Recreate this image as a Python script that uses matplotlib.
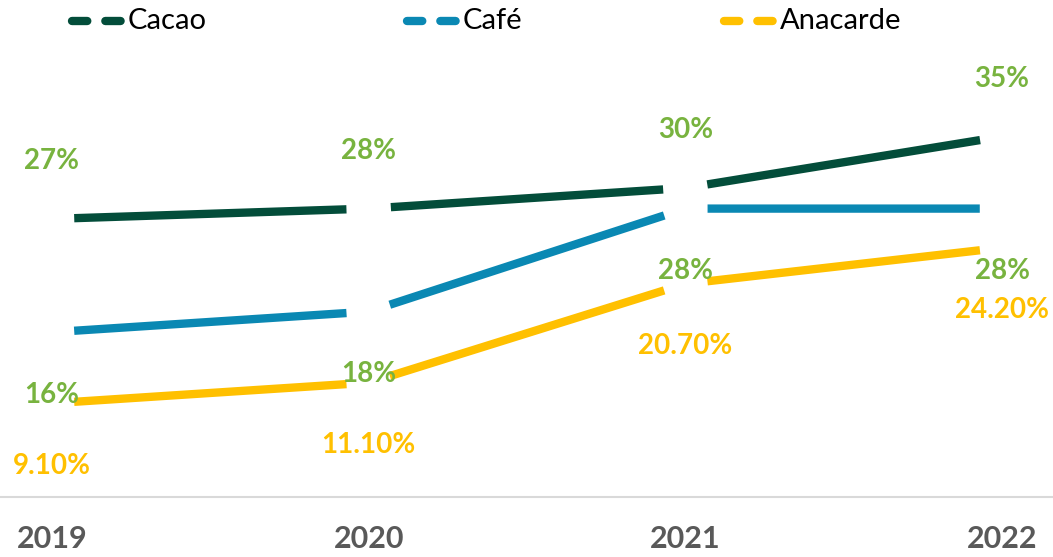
import matplotlib
matplotlib.use("Agg")
import matplotlib.pyplot as plt
from matplotlib.lines import Line2D

plt.rcParams['font.family'] = ['Lato', 'DejaVu Sans']
plt.rcParams['lines.scale_dashes'] = False

years = ["2019", "2020", "2021", "2022"]
cacao = [27, 28, 30, 35]
cafe = [16, 18, 28, 28]
anacarde = [9.1, 11.1, 20.7, 24.2]
cacao_labels = ["27%", "28%", "30%", "35%"]
cafe_labels = ["16%", "18%", "28%", "28%"]
anacarde_labels = ["9.10%", "11.10%", "20.70%", "24.20%"]

C_CACAO = "#034D3A"
C_CAFE = "#0A88B3"
C_ANA = "#FFC000"
C_GREEN = "#78B33F"
C_GRAY = "#595959"

fig = plt.figure(figsize=(10.53, 5.57), dpi=100)
ax = fig.add_axes([0, 60/557, 1, 437/557])
ax.set_xlim(-52/316.7, 3 + 51/316.7)
ax.set_ylim(0, 437/10.3)

xs = list(range(len(years)))
LW = 6.0
SHR = 16

def draw_series(vals, color):
    for i in range(len(vals) - 1):
        ax.annotate("", xy=(xs[i+1], vals[i+1]), xytext=(xs[i], vals[i]),
                    arrowprops=dict(arrowstyle='-', shrinkA=SHR, shrinkB=SHR,
                                    lw=LW, color=color, capstyle='butt'))

draw_series(cacao, C_CACAO)
draw_series(cafe, C_CAFE)
draw_series(anacarde, C_ANA)

FS = 20
for x, v, t in zip(xs, cacao, cacao_labels):
    ax.annotate(t, (x, v), xytext=(0, 41.5), textcoords='offset points',
                ha='center', va='center', fontsize=FS, fontweight='bold', color=C_GREEN)
for x, v, t in zip(xs, cafe, cafe_labels):
    ax.annotate(t, (x, v), xytext=(0, -45), textcoords='offset points',
                ha='center', va='center', fontsize=FS, fontweight='bold', color=C_GREEN)
for x, v, t in zip(xs, anacarde, anacarde_labels):
    ax.annotate(t, (x, v), xytext=(0, -45), textcoords='offset points',
                ha='center', va='center', fontsize=FS, fontweight='bold', color=C_ANA)

for s in ['top', 'left', 'right']:
    ax.spines[s].set_visible(False)
ax.spines['bottom'].set_color('#D9D9D9')
ax.spines['bottom'].set_linewidth(1.5)
ax.set_yticks([])
ax.set_xticks(xs)
ax.set_xticklabels(years, fontsize=22, fontweight='bold', color=C_GRAY)
ax.tick_params(axis='x', length=0, pad=20)

# legend
legend_items = [("Cacao", C_CACAO, 68), ("Café", C_CAFE, 403), ("Anacarde", C_ANA, 720)]
H = 557
W = 1053
for name, col, x0 in legend_items:
    ln = Line2D([(x0+4)/W, (x0+55)/W], [1 - 21/H, 1 - 21/H], transform=fig.transFigure,
                color=col, lw=LW, dashes=(11, 13), solid_capstyle='round',
                dash_capstyle='round')
    fig.add_artist(ln)
    fig.text((x0+60)/W, 1 - 21/H, name, ha='left', va='center', fontsize=21, color='black')

fig.savefig("out.png", dpi=100)
